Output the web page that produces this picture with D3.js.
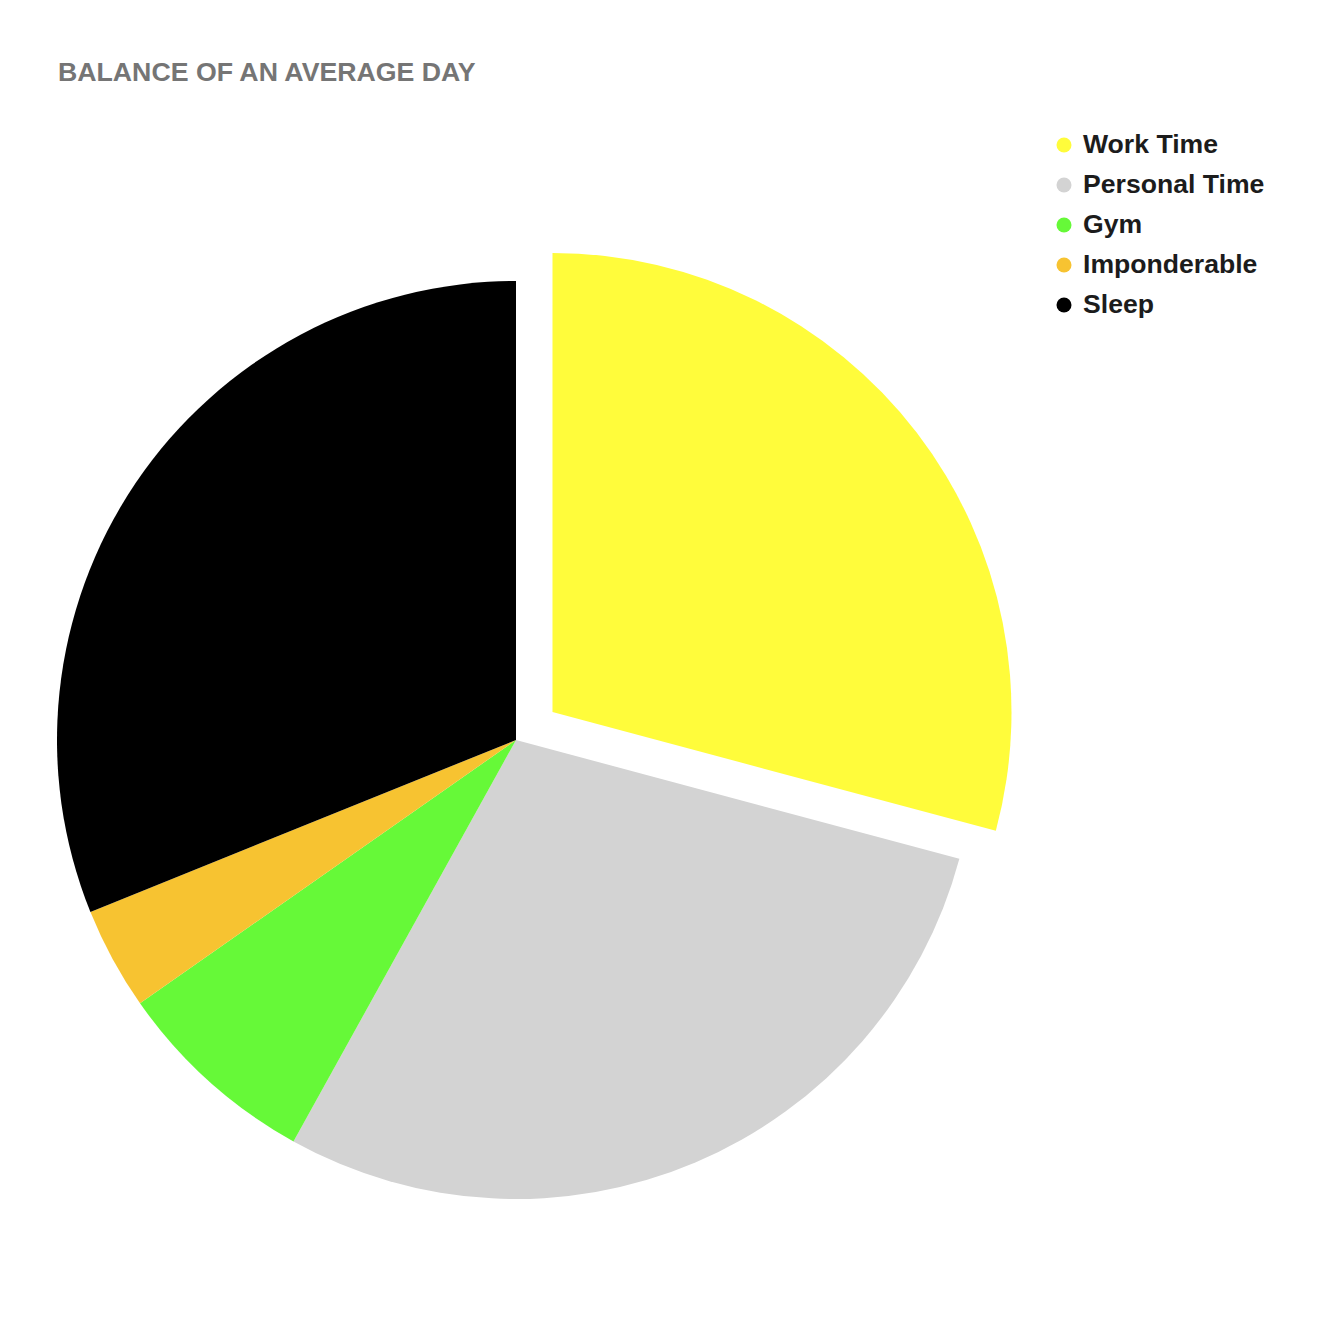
<!DOCTYPE html>
<html>
<head>
<meta charset="utf-8">
<script src="https://cdn.jsdelivr.net/npm/d3@7"></script>
<style>
    body { margin: 0; background: #fff; }
    text { font-family: "Liberation Sans", Arial, Helvetica, sans-serif; font-weight: bold; }
</style>
</head>
<body>
<div id="chart"></div>
<script>
// minutes in an average day
var categories = ["Work Time", "Personal Time", "Gym", "Imponderable", "Sleep"];
var minutes = [420, 416, 104, 52, 448];
var colors = ["#fffc3b", "#d3d3d3", "#66f938", "#f7c331", "#000000"];
var exploded = ["Work Time"];

var w = 1318;
var h = 1324;
var cx = 516, cy = 740;
var radius = 459;
var offset = 46;

var svg = d3.select("#chart").append("svg")
    .attr("width", w)
    .attr("height", h);

svg.append("text")
    .attr("x", 58)
    .attr("y", 81)
    .style("font-size", "26.7px")
    .style("fill", "#757575")
    .text("BALANCE OF AN AVERAGE DAY");

var data = categories.map(function (c, i) { return { name: c, value: minutes[i] }; });

var color = d3.scaleOrdinal().domain(categories).range(colors);

var pie = d3.pie().sort(null).value(d => d.value);
var arc = d3.arc().innerRadius(0).outerRadius(radius);

var g = svg.append("g")
    .attr("transform", "translate(" + cx + "," + cy + ")");

g.selectAll("path")
    .data(pie(data))
    .join("path")
    .attr("d", arc)
    .attr("fill", d => color(d.data.name))
    .attr("transform", function (d) {
        if (exploded.indexOf(d.data.name) < 0) return null;
        var a = (d.startAngle + d.endAngle) / 2;
        return "translate(" + (Math.sin(a) * offset) + "," + (-Math.cos(a) * offset) + ")";
    });

var legend = svg.append("g")
    .attr("transform", "translate(1064,144)");

var row = legend.selectAll("g")
    .data(categories)
    .join("g")
    .attr("transform", (d, i) => "translate(0," + (i * 40) + ")");

row.append("circle")
    .attr("r", 7.5)
    .attr("cy", 1)
    .attr("fill", d => color(d));

row.append("text")
    .attr("x", 19)
    .attr("y", 9)
    .style("font-size", "26.6px")
    .style("fill", "#1c1c1c")
    .text(d => d);
</script>
</body>
</html>
